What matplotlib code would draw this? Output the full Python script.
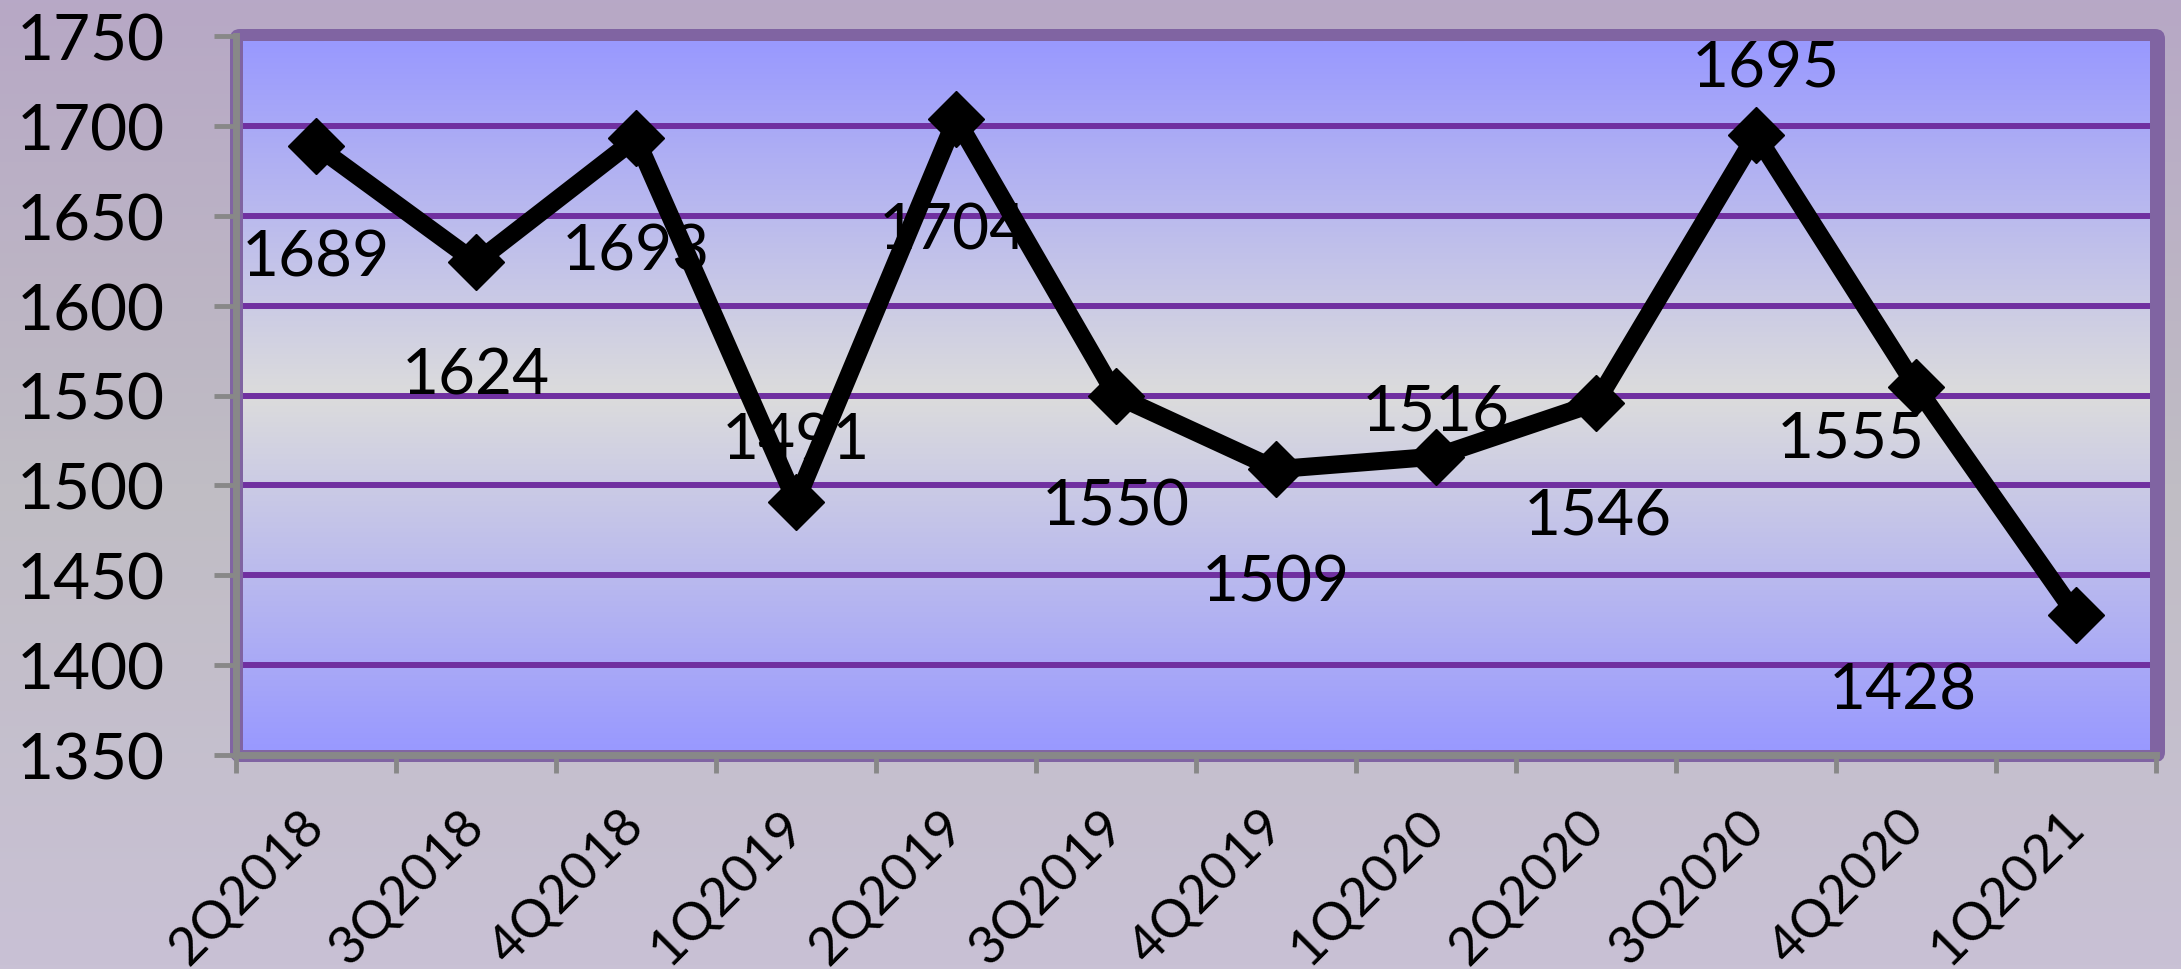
import numpy as np
import matplotlib.pyplot as plt
from matplotlib.colors import LinearSegmentedColormap
from matplotlib.patches import FancyBboxPatch

plt.rcParams['font.family'] = ['Lato', 'DejaVu Sans']

quarters = ['2Q2018', '3Q2018', '4Q2018', '1Q2019', '2Q2019', '3Q2019',
            '4Q2019', '1Q2020', '2Q2020', '3Q2020', '4Q2020', '1Q2021']
values = [1689, 1624, 1693, 1491, 1704, 1550, 1509, 1516, 1546, 1695, 1555, 1428]
y_ticks = [1350, 1400, 1450, 1500, 1550, 1600, 1650, 1700, 1750]

# where the data labels sit relative to their point (category units, value units)
label_dx = [0, 0, 0, 0, -0.02, 0, 0, 0, 0.01, 0.06, -0.41, -1.08]
label_dy = [-59, -60, -60, 37, -59, -59, -60, 28, -60, 40, -26, -39]

W, H = 2181, 970
fig = plt.figure(figsize=(W / 100, H / 100), dpi=100)

# figure background + purple plot frame
bg = fig.add_axes([0, 0, 1, 1], zorder=-10)
bg_cmap = LinearSegmentedColormap.from_list('bg', ['#B7A8C6', '#C0BDC4', '#C9C1D5'])
bg.imshow(np.linspace(0, 1, 256).reshape(-1, 1), cmap=bg_cmap, aspect='auto',
          extent=[0, W, H, 0])
bg.add_patch(FancyBboxPatch((230, 30), 1935, 733, boxstyle='round,pad=0,rounding_size=10',
                            fc='#8064A2', ec='none'))
bg.set_xlim(0, W)
bg.set_ylim(H, 0)
bg.axis('off')

ax = fig.add_axes([236 / W, 1 - 756 / H, 1920 / W, 719 / H])
ax.set_facecolor('#8064A2')
ax.set_xlim(-0.5, 11.5)
ax.set_ylim(1350, 1750)

plot_cmap = LinearSegmentedColormap.from_list('plot', ['#9999FF', '#DCDCDC', '#9999FF'])
ax.imshow(np.linspace(0, 1, 256).reshape(-1, 1), cmap=plot_cmap, aspect='auto',
          extent=[-0.456, 11.46, 1352.8, 1746.7], zorder=0)
ax.hlines(y_ticks[1:-1], -0.456, 11.46, color='#7030A0', lw=4.3, zorder=1)

x = np.arange(len(quarters))
ax.plot(x, values, color='black', lw=13, marker='D', ms=29, mec='black', mew=1,
        solid_joinstyle='miter', zorder=4)

for i, v in enumerate(values):
    ax.text(i + label_dx[i], v + label_dy[i] - 13, str(v), fontsize=46, ha='center',
            va='baseline', color='black', zorder=3)

for side in ['top', 'right']:
    ax.spines[side].set_visible(False)
for side in ['left', 'bottom']:
    ax.spines[side].set_color('#888888')
    ax.spines[side].set_linewidth(5)

ax.set_yticks(y_ticks)
ax.tick_params(axis='y', direction='out', length=16, width=3.5, color='#888888',
               labelsize=46, pad=35)

ax.set_xticks(np.arange(-0.5, 12, 1))
ax.set_xticklabels([])
ax.set_xticks(x, minor=True)
ax.set_xticklabels(quarters, minor=True, rotation=45, ha='right', va='center',
                   rotation_mode='anchor', fontsize=38)
ax.tick_params(axis='x', which='major', direction='out', length=13, width=3.5,
               color='#888888')
ax.tick_params(axis='x', which='minor', length=0, pad=45)

fig.savefig('out.png', dpi=100)
